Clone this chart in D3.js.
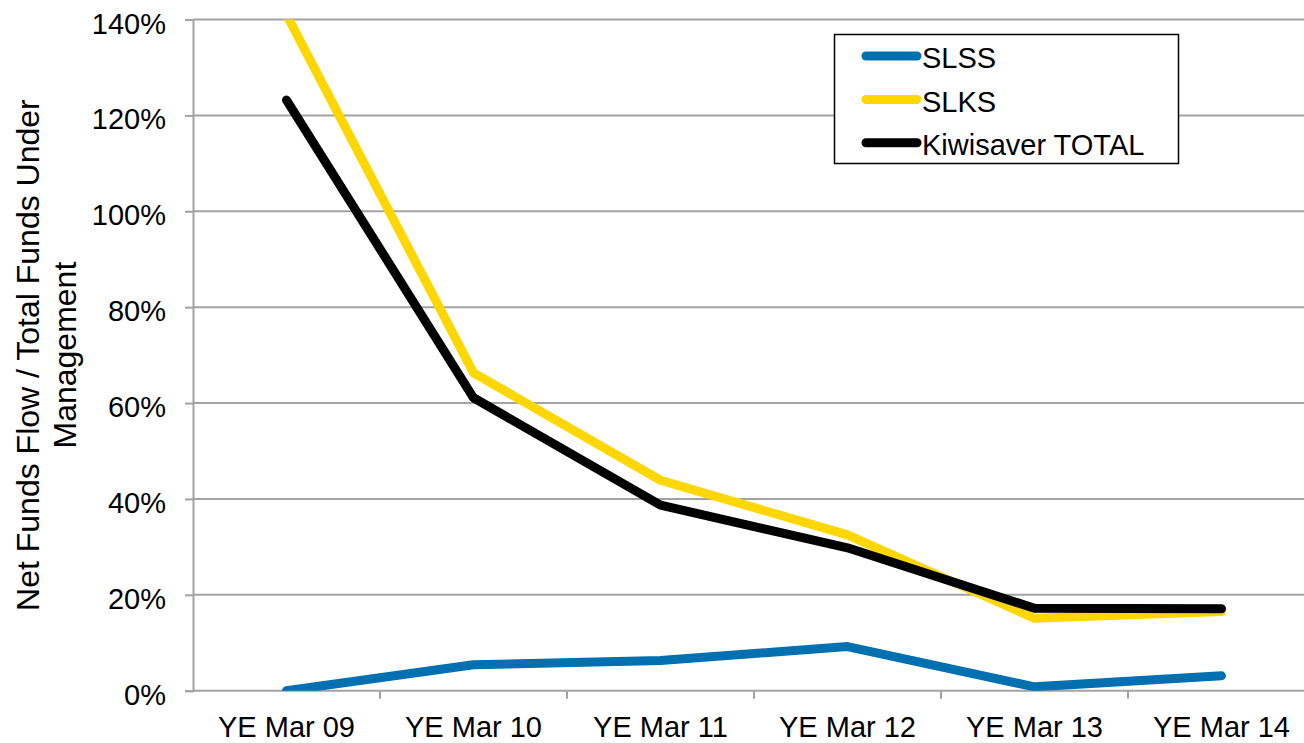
<!DOCTYPE html>
<html>
<head>
<meta charset="utf-8">
<script src="https://cdn.jsdelivr.net/npm/d3@7"></script>
<style>
  html, body { margin: 0; padding: 0; background: #fff; overflow: hidden; }
  svg { display: block; font-family: "Liberation Sans", Arial, sans-serif; }
</style>
</head>
<body>
<script>
// data (percent)
const years = ["YE Mar 09", "YE Mar 10", "YE Mar 11", "YE Mar 12", "YE Mar 13", "YE Mar 14"]
const slss = [0, 5.4, 6.3, 9.2, 0.8, 3.1]
const slks = [141, 66.3, 43.9, 32.5, 15.1, 16.5]
const total = [123.2, 61.1, 38.7, 29.8, 17.2, 17.1]
const yTicks = [0, 20, 40, 60, 80, 100, 120, 140]
const seriesNames = ["SLSS", "SLKS", "Kiwisaver TOTAL"]
const seriesColors = ["#0070B0", "#FFD700", "#000000"]

const width = 1304
const height = 743
const plot = { left: 193, right: 1315, top: 19.5, bottom: 690.7 }
const gridColor = "#a3a3a3"

const svg = d3.select("body").append("svg")
  .attr("width", width)
  .attr("height", height)

const x = d3.scaleBand().domain(years).range([plot.left, plot.right]).padding(0)
const y = d3.scaleLinear().domain([0, 140]).range([plot.bottom, plot.top])

// gridlines
svg.append("g")
  .selectAll("line")
  .data(yTicks.filter(d => d > 0))
  .enter().append("line")
  .attr("x1", plot.left).attr("x2", plot.right)
  .attr("y1", d => y(d)).attr("y2", d => y(d))
  .attr("stroke", gridColor).attr("stroke-width", 2)

// y axis
const yAxis = svg.append("g")
  .attr("transform", `translate(${plot.left},0)`)
  .call(d3.axisLeft(y).tickValues(yTicks).tickFormat(d => d + "%").tickSize(8).tickPadding(0))
yAxis.select(".domain").attr("stroke", gridColor).attr("stroke-width", 2)
yAxis.selectAll(".tick line").attr("stroke", gridColor).attr("stroke-width", 2)
yAxis.selectAll(".tick text")
  .attr("x", -27)
  .attr("dy", null)
  .attr("y", 13.5)
  .attr("font-size", 29)
  .attr("font-family", "Liberation Sans, Arial, sans-serif")
  .attr("fill", "#000")

// x axis line and ticks between categories
const xg = svg.append("g")
xg.append("line")
  .attr("x1", plot.left).attr("x2", plot.right)
  .attr("y1", plot.bottom).attr("y2", plot.bottom)
  .attr("stroke", gridColor).attr("stroke-width", 2)
xg.selectAll("line.tick")
  .data(years.slice(1))
  .enter().append("line")
  .attr("class", "tick")
  .attr("x1", d => x(d)).attr("x2", d => x(d))
  .attr("y1", plot.bottom).attr("y2", plot.bottom + 8)
  .attr("stroke", gridColor).attr("stroke-width", 2)
xg.selectAll("text")
  .data(years)
  .enter().append("text")
  .attr("x", d => x(d) + x.bandwidth() / 2)
  .attr("y", 737)
  .attr("text-anchor", "middle")
  .attr("font-size", 29)
  .text(d => d)

// y axis title
const title = svg.append("text")
  .attr("transform", `translate(0,${(plot.top + plot.bottom) / 2}) rotate(-90)`)
  .attr("text-anchor", "middle")
  .attr("font-size", 32)
title.append("tspan").attr("x", 0).attr("y", 39).text("Net Funds Flow / Total Funds Under")
title.append("tspan").attr("x", 0).attr("y", 76).text("Management")

// lines, clipped to plot area
svg.append("clipPath").attr("id", "plotclip")
  .append("rect")
  .attr("x", plot.left).attr("y", plot.top)
  .attr("width", plot.right - plot.left).attr("height", plot.bottom - plot.top)

const line = d3.line()
  .x((d, i) => x(years[i]) + x.bandwidth() / 2)
  .y(d => y(d))

const allSeries = [slss, slks, total]
svg.append("g")
  .attr("clip-path", "url(#plotclip)")
  .selectAll("path")
  .data(allSeries)
  .enter().append("path")
  .attr("d", d => line(d))
  .attr("fill", "none")
  .attr("stroke", (d, i) => seriesColors[i])
  .attr("stroke-width", 9)
  .attr("stroke-linecap", "round")
  .attr("stroke-linejoin", "round")

// legend
const legend = svg.append("g")
legend.append("rect")
  .attr("x", 834.5).attr("y", 34.5)
  .attr("width", 344).attr("height", 129)
  .attr("fill", "#fff")
  .attr("stroke", "#000")
  .attr("stroke-width", 1.5)

const rows = legend.selectAll("g.row")
  .data(seriesNames)
  .enter().append("g")
  .attr("class", "row")
  .attr("transform", (d, i) => `translate(0,${56 + i * 43.4})`)
rows.append("line")
  .attr("x1", 866).attr("x2", 917)
  .attr("y1", 0).attr("y2", 0)
  .attr("stroke", (d, i) => seriesColors[i])
  .attr("stroke-width", 9)
  .attr("stroke-linecap", "round")
rows.append("text")
  .attr("x", 922)
  .attr("y", 12.3)
  .attr("font-size", 29)
  .text(d => d)
</script>
</body>
</html>
